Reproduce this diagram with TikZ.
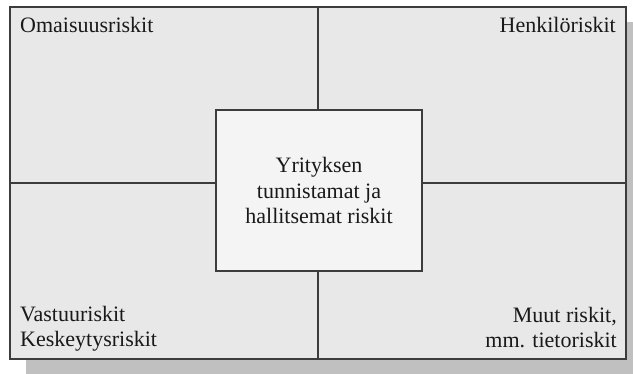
\documentclass[tikz,border=0pt]{standalone}
\usepackage{fontspec}
\setmainfont{Liberation Serif}
\usetikzlibrary{positioning,shadows}
\definecolor{quadgray}{HTML}{E8E8E8}
\definecolor{coregray}{HTML}{F4F4F4}
\definecolor{shadowgray}{HTML}{C0C0C0}
\definecolor{linegray}{HTML}{3C3C3C}
\tikzstyle{framebox}=[rectangle, draw=linegray, fill=quadgray, line width=1.4pt, inner sep=0pt,
drop shadow={shadow xshift=16pt, shadow yshift=-15pt, fill=shadowgray, opacity=1}]
\tikzstyle{corebox}=[rectangle, draw=linegray, fill=coregray, line width=1.2pt, inner sep=0pt,
text centered, align=center]
\tikzstyle{risktext}=[inner sep=0pt, font=\fontsize{22}{25.5}\selectfont, text=black!90]
\tikzstyle{line}=[-, line width=1.2pt, draw=linegray]

\begin{document}
\begin{tikzpicture}[x=1pt, y=-1pt]
    \useasboundingbox (0,0) rectangle (633,374);

    \node (frame) [framebox, minimum width=616pt, minimum height=352pt] at (318,183) {};
    \node (core) [corebox, risktext, minimum width=206pt, minimum height=161pt] at (319,190.5)
    {Yrityksen\\tunnistamat ja\\hallitsemat riskit};

%quadrant lines
   \draw[line] (frame.north) -- (frame.north |- core.north);
   \draw[line] (frame.south) -- (frame.south |- core.south);
   \draw[line] (frame.west) -- (frame.west -| core.west);
   \draw[line] (frame.east) -- (frame.east -| core.east);

%corner texts (base = last line)
    \node (omai) [risktext, anchor=base west] at (20,33) {Omaisuusriskit};
    \node (henk) [risktext, anchor=base east] at (616,33) {Henkilöriskit};
    \node (vast) [risktext, anchor=base west, align=left] at (20,347) {Vastuuriskit\\Keskeytysriskit};
    \node (muut) [risktext, anchor=base east, align=right] at (617,348) {Muut riskit,\\mm. tietoriskit};

\end{tikzpicture}
\end{document}
